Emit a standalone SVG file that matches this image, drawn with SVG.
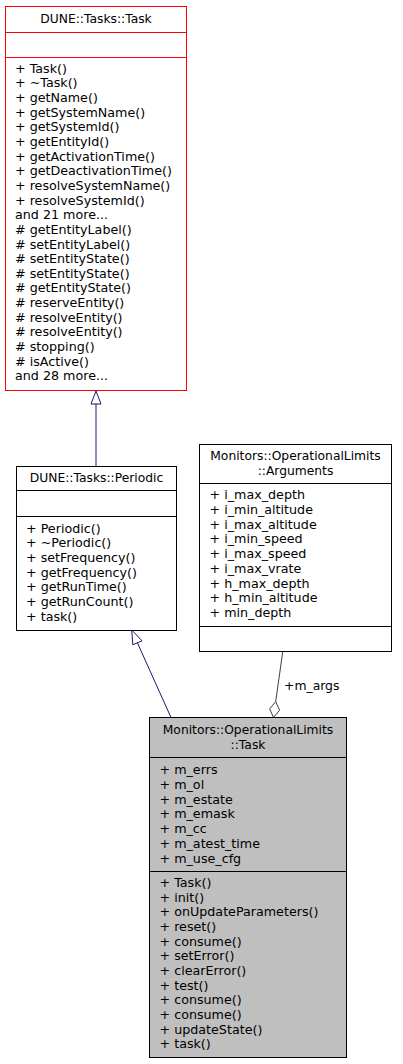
<svg xmlns="http://www.w3.org/2000/svg" width="403" height="1064" viewBox="0 0 403 1064">
<style>
text{font-family:"DejaVu Sans",sans-serif;font-size:12.7px;fill:#000}
.c{text-anchor:middle;font-size:12.3px}
.box{fill:#fff;stroke:#000;stroke-width:1}
.red{fill:#fff;stroke:#ff0000;stroke-width:1}
.cur{fill:#bfbfbf;stroke:#000;stroke-width:1}
.sep{stroke:#000;stroke-width:1}
.sepr{stroke:#ff0000;stroke-width:1}
.inh{stroke:#191970;stroke-width:1;fill:none}
.inhh{stroke:#191970;stroke-width:1;fill:#fff}
.agg{stroke:#404040;stroke-width:1;fill:none}
.aggh{stroke:#404040;stroke-width:1;fill:#fff}
.lbl{font-size:12.4px}
</style>
<rect width="403" height="1064" fill="#fff"/>
<g id="connectors">
<line class="inh" x1="96" y1="404" x2="96" y2="466"/>
<polygon class="inhh" points="96,391 91,404 101,404"/>
<line class="inh" x1="171" y1="717.5" x2="137.4" y2="642.8"/>
<polygon class="inhh" points="131.7,630 142,640.8 132.8,644.8"/>
<line class="agg" x1="282.7" y1="652" x2="275.7" y2="701.6"/>
<polygon class="aggh" points="273.5,717.5 279.6,710.2 275.7,701.6 269.6,708.9"/>
<text class="lbl" x="284" y="689.5">+m_args</text>
</g>
<g id="node-dune-task">
<rect class="red" x="5.5" y="6.5" width="181" height="384"/>
<line class="sepr" x1="5.5" y1="32.5" x2="186.5" y2="32.5"/>
<line class="sepr" x1="5.5" y1="57.5" x2="186.5" y2="57.5"/>
<text class="c" x="96" y="23.3">DUNE::Tasks::Task</text>
<text x="15" y="72.7">+ Task()</text>
<text x="15" y="87.35">+ ~Task()</text>
<text x="15" y="102">+ getName()</text>
<text x="15" y="116.65">+ getSystemName()</text>
<text x="15" y="131.3">+ getSystemId()</text>
<text x="15" y="145.95">+ getEntityId()</text>
<text x="15" y="160.6">+ getActivationTime()</text>
<text x="15" y="175.25">+ getDeactivationTime()</text>
<text x="15" y="189.9">+ resolveSystemName()</text>
<text x="15" y="204.55">+ resolveSystemId()</text>
<text x="15" y="219.2">and 21 more...</text>
<text x="15" y="233.85"># getEntityLabel()</text>
<text x="15" y="248.5"># setEntityLabel()</text>
<text x="15" y="263.15"># setEntityState()</text>
<text x="15" y="277.8"># setEntityState()</text>
<text x="15" y="292.45"># getEntityState()</text>
<text x="15" y="307.1"># reserveEntity()</text>
<text x="15" y="321.75"># resolveEntity()</text>
<text x="15" y="336.4"># resolveEntity()</text>
<text x="15" y="351.05"># stopping()</text>
<text x="15" y="365.7"># isActive()</text>
<text x="15" y="380.35">and 28 more...</text>
</g>
<g id="node-periodic">
<rect class="box" x="16.5" y="466.5" width="160" height="164"/>
<line class="sep" x1="16.5" y1="490.5" x2="176.5" y2="490.5"/>
<line class="sep" x1="16.5" y1="516.5" x2="176.5" y2="516.5"/>
<text class="c" x="96.5" y="482">DUNE::Tasks::Periodic</text>
<text x="26" y="532.5">+ Periodic()</text>
<text x="26" y="547.2">+ ~Periodic()</text>
<text x="26" y="561.9">+ setFrequency()</text>
<text x="26" y="576.6">+ getFrequency()</text>
<text x="26" y="591.3">+ getRunTime()</text>
<text x="26" y="606">+ getRunCount()</text>
<text x="26" y="620.7">+ task()</text>
</g>
<g id="node-arguments">
<rect class="box" x="199.5" y="444.5" width="192" height="207"/>
<line class="sep" x1="199.5" y1="483.5" x2="391.5" y2="483.5"/>
<line class="sep" x1="199.5" y1="626.5" x2="391.5" y2="626.5"/>
<text class="c" x="295.5" y="460.3">Monitors::OperationalLimits</text>
<text class="c" x="295.5" y="475">::Arguments</text>
<text x="209.5" y="499.3">+ i_max_depth</text>
<text x="209.5" y="514">+ i_min_altitude</text>
<text x="209.5" y="528.7">+ i_max_altitude</text>
<text x="209.5" y="543.4">+ i_min_speed</text>
<text x="209.5" y="558.1">+ i_max_speed</text>
<text x="209.5" y="572.8">+ i_max_vrate</text>
<text x="209.5" y="587.5">+ h_max_depth</text>
<text x="209.5" y="602.2">+ h_min_altitude</text>
<text x="209.5" y="616.9">+ min_depth</text>
</g>
<g id="node-ol-task">
<rect class="cur" x="149.5" y="717.5" width="197" height="340"/>
<line class="sep" x1="149.5" y1="757.5" x2="346.5" y2="757.5"/>
<line class="sep" x1="149.5" y1="871.5" x2="346.5" y2="871.5"/>
<text class="c" x="248" y="733.6">Monitors::OperationalLimits</text>
<text class="c" x="248" y="748.6">::Task</text>
<text x="159.5" y="774.3">+ m_errs</text>
<text x="159.5" y="789">+ m_ol</text>
<text x="159.5" y="803.7">+ m_estate</text>
<text x="159.5" y="818.4">+ m_emask</text>
<text x="159.5" y="833.1">+ m_cc</text>
<text x="159.5" y="847.8">+ m_atest_time</text>
<text x="159.5" y="862.5">+ m_use_cfg</text>
<text x="159.5" y="887">+ Task()</text>
<text x="159.5" y="901.66">+ init()</text>
<text x="159.5" y="916.32">+ onUpdateParameters()</text>
<text x="159.5" y="930.98">+ reset()</text>
<text x="159.5" y="945.64">+ consume()</text>
<text x="159.5" y="960.3">+ setError()</text>
<text x="159.5" y="974.96">+ clearError()</text>
<text x="159.5" y="989.62">+ test()</text>
<text x="159.5" y="1004.28">+ consume()</text>
<text x="159.5" y="1018.94">+ consume()</text>
<text x="159.5" y="1033.6">+ updateState()</text>
<text x="159.5" y="1048.26">+ task()</text>
</g>
</svg>
